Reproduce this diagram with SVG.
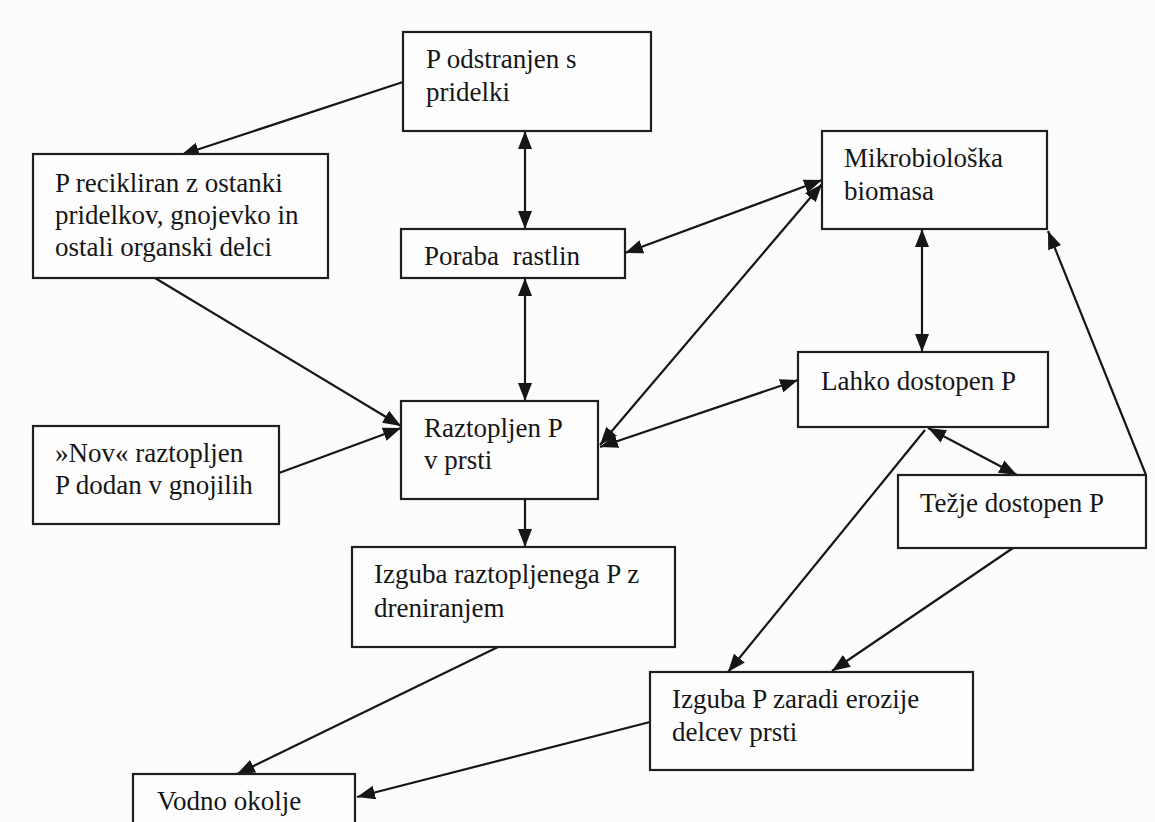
<svg xmlns="http://www.w3.org/2000/svg" width="1155" height="822" viewBox="0 0 1155 822">
  <style>
    .box { fill: #fdfdfd; stroke: #1e1e1e; stroke-width: 2.2; }
    .lbl { font-family: "Liberation Serif", "Times New Roman", serif; font-size: 27px; fill: #161616; }
    .link { stroke: #161616; stroke-width: 2.2; fill: none; }
    .one { marker-end: url(#head); }
    .two { marker-start: url(#head); marker-end: url(#head); }
  </style>
  <defs>
    <!-- filled triangular arrowhead, reversed automatically at line starts -->
    <marker id="head" viewBox="0 0 18 14" refX="18" refY="7" markerWidth="18" markerHeight="14" markerUnits="userSpaceOnUse" orient="auto-start-reverse">
      <path d="M0,0 L18,7 L0,14 z" fill="#161616"/>
    </marker>
  </defs>

  <rect width="1155" height="822" fill="#fcfcfc"/>

  <!-- connectors -->
  <g id="connectors">
    <line class="link one" x1="403" y1="82" x2="181" y2="155"/>
    <line class="link two" x1="525" y1="131" x2="525" y2="229"/>
    <line class="link two" x1="525" y1="278" x2="525" y2="401"/>
    <line class="link two" x1="822" y1="180" x2="625" y2="253"/>
    <line class="link two" x1="822" y1="184" x2="600" y2="445"/>
    <line class="link two" x1="600" y1="447" x2="798" y2="380"/>
    <line class="link two" x1="922" y1="229" x2="922" y2="352"/>
    <line class="link one" x1="1146" y1="475" x2="1048" y2="231"/>
    <line class="link two" x1="928" y1="428" x2="1017" y2="475"/>
    <line class="link one" x1="925" y1="430" x2="728" y2="672"/>
    <line class="link one" x1="1013" y1="548" x2="832" y2="671"/>
    <line class="link one" x1="155" y1="278" x2="401" y2="426"/>
    <line class="link one" x1="279" y1="473" x2="401" y2="428"/>
    <line class="link one" x1="525" y1="499" x2="525" y2="547"/>
    <line class="link one" x1="498" y1="647" x2="237" y2="774"/>
    <line class="link one" x1="650" y1="722" x2="357" y2="797"/>
  </g>

  <g id="odstranjen">
    <rect class="box" x="403" y="32" width="248" height="99"/>
    <text class="lbl" x="426" y="68">P odstranjen s</text>
    <text class="lbl" x="426" y="101">pridelki</text>
  </g>

  <g id="recikliran">
    <rect class="box" x="33" y="154" width="295" height="124"/>
    <text class="lbl" x="55" y="192">P recikliran z ostanki</text>
    <text class="lbl" x="55" y="224">pridelkov, gnojevko in</text>
    <text class="lbl" x="55" y="256">ostali organski delci</text>
  </g>

  <g id="poraba">
    <rect class="box" x="401" y="229" width="224" height="49"/>
    <text class="lbl" x="424" y="265" xml:space="preserve">Poraba  rastlin</text>
  </g>

  <g id="mikrobioloska">
    <rect class="box" x="822" y="131" width="225" height="98"/>
    <text class="lbl" x="844" y="167">Mikrobiološka</text>
    <text class="lbl" x="844" y="200">biomasa</text>
  </g>

  <g id="raztopljen">
    <rect class="box" x="401" y="401" width="197" height="98"/>
    <text class="lbl" x="424" y="437">Raztopljen P</text>
    <text class="lbl" x="424" y="469">v prsti</text>
  </g>

  <g id="nov">
    <rect class="box" x="33" y="426" width="246" height="98"/>
    <text class="lbl" x="55" y="462">»Nov« raztopljen</text>
    <text class="lbl" x="55" y="494">P dodan v gnojilih</text>
  </g>

  <g id="lahko">
    <rect class="box" x="798" y="352" width="250" height="75"/>
    <text class="lbl" x="821" y="390">Lahko dostopen P</text>
  </g>

  <g id="tezje">
    <rect class="box" x="898" y="475" width="248" height="73"/>
    <text class="lbl" x="920" y="512">Težje dostopen P</text>
  </g>

  <g id="izguba-drenaza">
    <rect class="box" x="352" y="547" width="323" height="100"/>
    <text class="lbl" x="374" y="583">Izguba raztopljenega P z</text>
    <text class="lbl" x="374" y="617">dreniranjem</text>
  </g>

  <g id="izguba-erozija">
    <rect class="box" x="650" y="672" width="323" height="98"/>
    <text class="lbl" x="672" y="708">Izguba P zaradi erozije</text>
    <text class="lbl" x="672" y="741">delcev prsti</text>
  </g>

  <g id="vodno">
    <rect class="box" x="133" y="774" width="222" height="70"/>
    <text class="lbl" x="157" y="810">Vodno okolje</text>
  </g>
</svg>
